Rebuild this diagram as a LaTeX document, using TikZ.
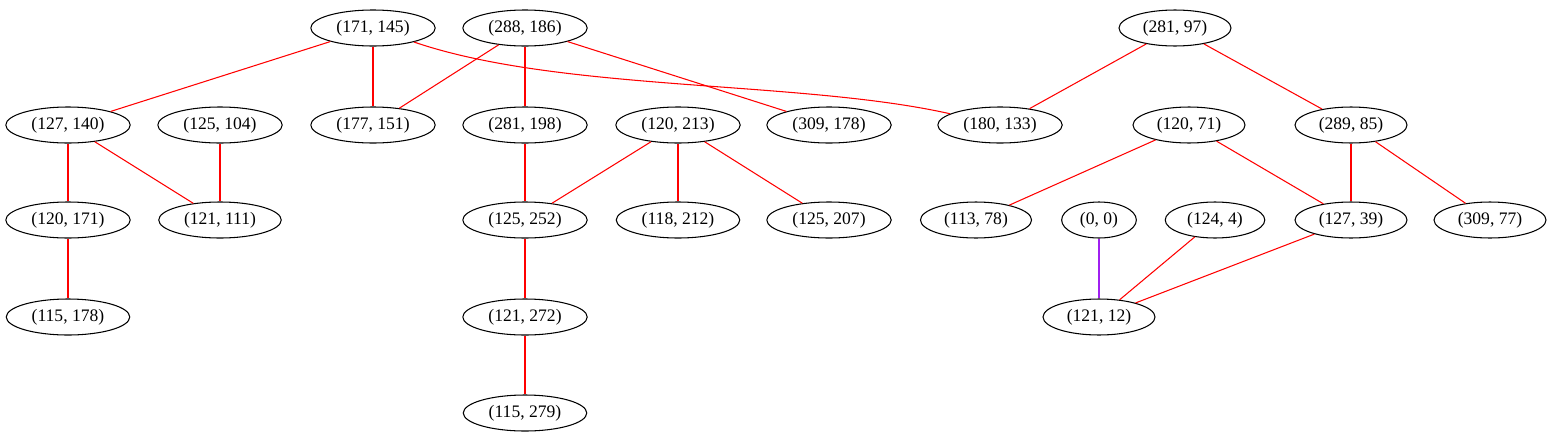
\documentclass[tikz,border=0pt]{standalone}
\usepackage{fontspec}
\setmainfont{Liberation Serif}
\usepackage{tikz}
\usetikzlibrary{shapes.geometric}
\definecolor{gvpurple}{HTML}{A020F0}

\begin{document}
\begin{tikzpicture}[x=0.02cm,y=-0.02cm,
	pt/.style={draw,ellipse,line width=0.6pt,inner xsep=4.2pt,inner ysep=2.2pt,minimum height=0.72cm,font=\fontsize{10}{12}\selectfont},
	edge/.style={red,line width=0.6pt}]
	\useasboundingbox (0,0) rectangle (1554,443);
	%top row
	\node[pt] (p171x145) at (373,28)  {(171, 145)};
	\node[pt] (p288x186) at (525,28)  {(288, 186)};
	\node[pt] (p281x97)  at (1175,28) {(281, 97)};
	%second row
	\node[pt] (p127x140) at (68,125)   {(127, 140)};
	\node[pt] (p125x104) at (220,125)  {(125, 104)};
	\node[pt] (p177x151) at (373,125)  {(177, 151)};
	\node[pt] (p281x198) at (525,125)  {(281, 198)};
	\node[pt] (p120x213) at (678,125)  {(120, 213)};
	\node[pt] (p309x178) at (829,125)  {(309, 178)};
	\node[pt] (p180x133) at (1000,125) {(180, 133)};
	\node[pt] (p120x71)  at (1189,125) {(120, 71)};
	\node[pt] (p289x85)  at (1351,125) {(289, 85)};
	%third row
	\node[pt] (p120x171) at (68,220)   {(120, 171)};
	\node[pt] (p121x111) at (220,220)  {(121, 111)};
	\node[pt] (p125x252) at (525,220)  {(125, 252)};
	\node[pt] (p118x212) at (678,220)  {(118, 212)};
	\node[pt] (p125x207) at (829,220)  {(125, 207)};
	\node[pt] (p113x78)  at (976,220)  {(113, 78)};
	\node[pt] (p0x0)     at (1099,220) {(0, 0)};
	\node[pt] (p124x4)   at (1215,220) {(124, 4)};
	\node[pt] (p127x39)  at (1351,220) {(127, 39)};
	\node[pt] (p309x77)  at (1490,220) {(309, 77)};
	%lower rows
	\node[pt] (p115x178) at (68,317)   {(115, 178)};
	\node[pt] (p121x272) at (525,317)  {(121, 272)};
	\node[pt] (p121x12)  at (1099,317) {(121, 12)};
	\node[pt] (p115x279) at (525,413)  {(115, 279)};

	%edges
	\draw[edge] (p171x145)--(p127x140);
	\draw[edge] (p171x145)--(p177x151);
	\draw[edge] (p171x145) .. controls (560,92) and (800,80) .. (p180x133);	%long one
	\draw[edge] (p288x186)--(p177x151);
	\draw[edge] (p288x186)--(p281x198);
	\draw[edge] (p288x186)--(p309x178);
	\draw[edge] (p281x97)--(p180x133);
	\draw[edge] (p281x97)--(p289x85);
	\draw[edge] (p127x140)--(p120x171);
	\draw[edge] (p127x140)--(p121x111);
	\draw[edge] (p125x104)--(p121x111);
	\draw[edge] (p281x198)--(p125x252);
	\draw[edge] (p120x213)--(p125x252);
	\draw[edge] (p120x213)--(p118x212);
	\draw[edge] (p120x213)--(p125x207);
	\draw[edge] (p120x71)--(p113x78);
	\draw[edge] (p120x71)--(p127x39);
	\draw[edge] (p289x85)--(p127x39);
	\draw[edge] (p289x85)--(p309x77);
	\draw[edge] (p120x171)--(p115x178);
	\draw[edge] (p125x252)--(p121x272);
	\draw[edge] (p121x272)--(p115x279);
	\draw[edge,gvpurple] (p0x0)--(p121x12);
	\draw[edge] (p124x4)--(p121x12);
	\draw[edge] (p127x39)--(p121x12);
\end{tikzpicture}
\end{document}
